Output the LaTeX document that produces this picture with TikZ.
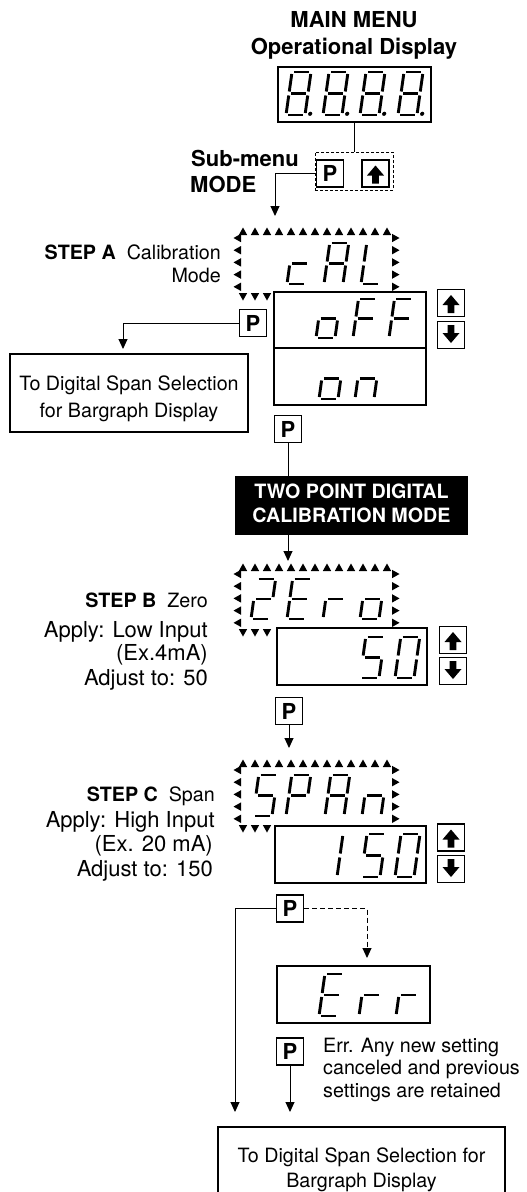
\documentclass[tikz,border=0pt]{standalone}
\usepackage{fontspec}
\setmainfont{TeX Gyre Heros}
\usetikzlibrary{arrows.meta}
\newcommand{\fsn}{\fontsize{19.7pt}{24pt}\selectfont}
\newcommand{\fsl}{\fontsize{22pt}{26pt}\selectfont}
% seven segment parts
\newcommand{\segA}{\draw[seg] (0,-\sgH) -- (\sgW,-\sgH);}
\newcommand{\segB}{\draw[seg] (\sgW,-\sgH) -- (\sgW,-\sgM);}
\newcommand{\segC}{\draw[seg] (\sgW,-\sgM) -- (\sgW,0);}
\newcommand{\segD}{\draw[seg] (0,0) -- (\sgW,0);}
\newcommand{\segE}{\draw[seg] (0,-\sgM) -- (0,0);}
\newcommand{\segF}{\draw[seg] (0,-\sgH) -- (0,-\sgM);}
\newcommand{\segG}{\draw[seg] (0,-\sgM) -- (\sgW,-\sgM);}
\newcommand{\segP}{\fill (\sgW+5,-1.2) circle (2.1);}
% \sdig{x}{baseline y}{height}{segments}
\newcommand{\sdig}[4]{%
  \begin{scope}[shift={(#1,#2)},xslant=0.14]
    \def\sgH{#3}\def\sgW{19}\pgfmathsetmacro{\sgM}{#3/2}%
    #4
  \end{scope}}
% triangle frame: left, top
\newcommand{\tframe}[2]{%
  \foreach \k in {0,...,12} {\fill ({#1+2+12*\k-4.2},#2) -- ({#1+2+12*\k+4.2},#2) -- ({#1+2+12*\k},{#2-7.5}) -- cycle;}
  \foreach \k in {0,...,4} {\fill (#1,{#2+3+12.2*\k-4.2}) -- (#1,{#2+3+12.2*\k+4.2}) -- ({#1-7.5},{#2+3+12.2*\k}) -- cycle;
    \fill ({#1+151},{#2+3+12.2*\k-4.2}) -- ({#1+151},{#2+3+12.2*\k+4.2}) -- ({#1+158.5},{#2+3+12.2*\k}) -- cycle;}
  \foreach \k in {0,...,2} {\fill ({#1+2+12*\k-4.2},{#2+58}) -- ({#1+2+12*\k+4.2},{#2+58}) -- ({#1+2+12*\k},{#2+65.5}) -- cycle;}}
\newcommand{\arrup}[1]{\fill[shift={(#1.center)}] (0,-8) -- (8.5,2) -- (3.3,2) -- (3.3,10) -- (-3.3,10) -- (-3.3,2) -- (-8.5,2) -- cycle;}
\newcommand{\arrdn}[1]{\fill[shift={(#1.center)},yscale=-1] (0,-8) -- (8.5,2) -- (3.3,2) -- (3.3,10) -- (-3.3,10) -- (-3.3,2) -- (-8.5,2) -- cycle;}
\begin{document}
\begin{tikzpicture}[x=1pt,y=-1pt,
  seg/.style={line width=2.9pt,shorten <=2pt,shorten >=2pt},
  key/.style={draw,line width=1.1pt,minimum width=27pt,minimum height=27pt,inner sep=0pt,font=\fsl\bfseries},
  disp/.style={draw,line width=1.2pt,inner sep=0pt},
  txt/.style={inner sep=0pt,font=\fsn},
  arr/.style={line width=1pt,-{Triangle[width=9pt,length=10pt]}},
  con/.style={line width=1pt}]
\useasboundingbox (0,0) rectangle (527,1192);
% titles
\node[txt,font=\fsl\bfseries,anchor=base] (t1) at (354,27) {MAIN MENU};
\node[txt,font=\fsl\bfseries,anchor=base] (t2) at (354,54) {Operational Display};
% main display
\node[disp,minimum width=153pt,minimum height=55pt] (md) at (354.5,94.5) {};
\foreach \xx in {286,323,360,398} {\sdig{\xx}{115}{43}{\segA\segB\segC\segD\segE\segF\segG\segP}}
% submenu keys
\node[draw,dashed,dash pattern=on 3pt off 2pt,line width=0.9pt,minimum width=78pt,minimum height=38pt,inner sep=0pt] (sub) at (354,171) {};
\node[key] (pk0) at (330,173.5) {P};
\node[key] (uk0) at (375.5,173.5) {};
\arrup{uk0}
\node[txt,font=\fsl\bfseries,anchor=base west] (sm1) at (191,166) {Sub-menu};
\node[txt,font=\fsl\bfseries,anchor=base west] (sm2) at (190,192) {MODE};
\draw[con] (md.south -| sub.north) -- (sub.north);
\coordinate (fA) at (275,216);
\draw[arr] (pk0.west -| sub.west) -| (fA);
% STEP A
\tframe{241}{235}
\sdig{287}{284}{41}{\segD\segE\segG}
\sdig{324}{284}{41}{\segA\segB\segC\segE\segF\segG}
\sdig{361}{284}{41}{\segD\segE\segF}
\node[txt,anchor=base east] (lA1) at (221,259) {\textbf{STEP A}\ \ Calibration};
\node[txt,anchor=base east] (lA2) at (221,282) {Mode};
\node[disp,minimum width=152pt,minimum height=56pt] (off) at (350,320) {};
\node[disp,minimum width=152pt,minimum height=57pt] (on) at (350,376.5) {};
\sdig{316}{338}{39}{\segC\segD\segE\segG}
\sdig{353}{338}{39}{\segA\segE\segF\segG}
\sdig{389}{338}{39}{\segA\segE\segF\segG}
\sdig{319}{399}{41}{\segC\segD\segE\segG}
\sdig{355}{399}{41}{\segC\segE\segG}
\node[key] (upA) at (451,303) {};
\node[key] (dnA) at (451,335) {};
\arrup{upA}\arrdn{dnA}
\node[key] (pA) at (253,323) {P};
\node[disp,minimum width=238pt,minimum height=78pt] (lbox) at (129,393) {};
\node[txt,anchor=base] (lb1) at (129,390) {To Digital Span Selection};
\node[txt,anchor=base] (lb2) at (129,417) {for Bargraph Display};
\coordinate (cA1) at (123,349);
\draw[arr] (pA.west) -| (cA1);
\node[key] (pOn) at (288,429) {P};
\node[fill=black,minimum width=233pt,minimum height=59pt,inner sep=0pt] (blk) at (351.5,505.5) {};
\node[txt,font=\fsn\bfseries,text=white,anchor=base] (bk1) at (351.5,498) {TWO POINT DIGITAL};
\node[txt,font=\fsn\bfseries,text=white,anchor=base] (bk2) at (351.5,522) {CALIBRATION MODE};
\draw[con] (pOn.south) -- (pOn.south |- blk.north);
\coordinate (fB) at (288,561);
\draw[arr] (blk.south -| pOn) -- (fB);
% STEP B
\tframe{241}{571}
\sdig{251}{619}{40}{\segA\segB\segG\segE\segD}
\sdig{287}{619}{40}{\segA\segD\segE\segF\segG}
\sdig{323}{619}{40}{\segE\segG}
\sdig{360}{619}{40}{\segC\segD\segE\segG}
\node[txt,anchor=base east] (lB1) at (208,607) {\textbf{STEP B}\ \ Zero};
\node[txt,font=\fsl,anchor=base east] (lB2) at (208,637) {Apply: Low Input};
\node[txt,font=\fsl,anchor=base east] (lB3) at (208,660) {(Ex.4mA)};
\node[txt,font=\fsl,anchor=base east] (lB4) at (208,685) {Adjust to: 50};
\node[disp,minimum width=150pt,minimum height=57pt] (d50) at (352,656.5) {};
\sdig{360}{678}{41}{\segA\segF\segG\segC\segD}
\sdig{395}{678}{41}{\segA\segB\segC\segD\segE\segF}
\node[key] (upB) at (453,640) {};
\node[key] (dnB) at (453,671) {};
\arrup{upB}\arrdn{dnB}
\node[key] (pB) at (289,711) {P};
\coordinate (fC) at (289,748);
\draw[arr] (pB.south) -- (fC);
% STEP C
\tframe{241}{767}
\sdig{253}{816}{41}{\segA\segF\segG\segC\segD}
\sdig{286}{816}{41}{\segA\segB\segE\segF\segG}
\sdig{325}{816}{41}{\segA\segB\segC\segE\segF\segG}
\sdig{362}{816}{41}{\segC\segE\segG}
\node[txt,anchor=base east] (lC1) at (215,801) {\textbf{STEP C}\ \ Span};
\node[txt,font=\fsl,anchor=base east] (lC2) at (215,827) {Apply: High Input};
\node[txt,font=\fsl,anchor=base east] (lC3) at (213,851) {(Ex. 20 mA)};
\node[txt,font=\fsl,anchor=base east] (lC4) at (213,876) {Adjust to: 150};
\node[disp,minimum width=151pt,minimum height=57pt] (d150) at (350.5,854.5) {};
\sdig{318}{877}{43}{\segB\segC}
\sdig{361}{877}{43}{\segA\segF\segG\segC\segD}
\sdig{395}{877}{43}{\segA\segB\segC\segD\segE\segF}
\node[key] (upC) at (451,837.5) {};
\node[key] (dnC) at (451,869) {};
\arrup{upC}\arrdn{dnC}
\node[key] (pC) at (290,908.5) {P};
% Err
\node[disp,minimum width=153pt,minimum height=57pt] (err) at (353.5,994.5) {};
\sdig{319}{1016}{42}{\segA\segD\segE\segF\segG}
\sdig{359}{1016}{42}{\segE\segG}
\sdig{396}{1016}{42}{\segE\segG}
\coordinate (cE) at (367,958);
\draw[arr,dash pattern=on 5pt off 3pt] (pC.east) -| (cE);
\node[key] (pE) at (290,1051.5) {P};
\node[txt,anchor=base west] (e1) at (323,1052) {Err. Any new setting};
\node[txt,anchor=base west] (e2) at (323,1074) {canceled and previous};
\node[txt,anchor=base west] (e3) at (323,1097) {settings are retained};
% bottom box
\node[minimum width=287pt,minimum height=65pt,inner sep=0pt] (bbox) at (361.5,1159.5) {};
\draw[line width=2.2pt] (bbox.south west) |- (bbox.north east) -- (bbox.south east);
\node[txt,anchor=base] (bb1) at (361.5,1162) {To Digital Span Selection for};
\node[txt,anchor=base] (bb2) at (361.5,1187) {Bargraph Display};
\coordinate (cL) at (235,1112);
\coordinate (cR) at (290,1112);
\draw[arr] (pC.west) -| (cL);
\draw[arr] (pE.south) -- (cR);
\end{tikzpicture}
\end{document}
